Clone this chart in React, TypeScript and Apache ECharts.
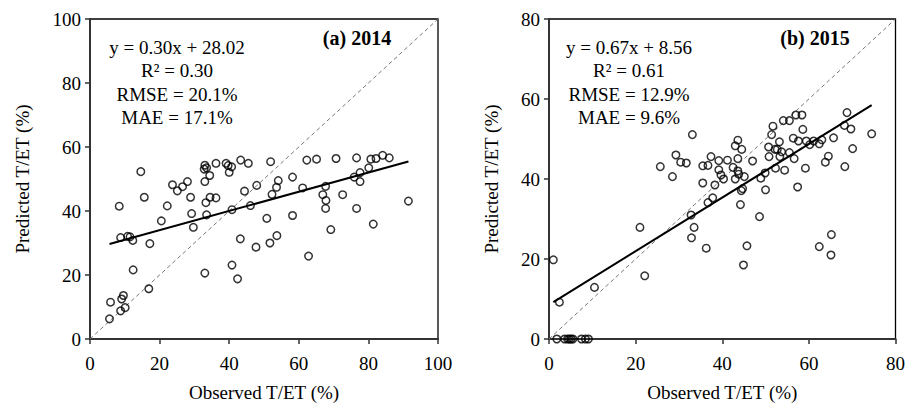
import React, { useEffect, useRef } from "react";
import * as echarts from "echarts";

// 2014 season: observed vs predicted T/ET (%)
const obs2014 = [
  5.6, 5.9, 8.8, 10.1, 9.1, 9.6, 8.4, 8.8, 10.8, 11.5, 12.3, 12.4, 14.6, 15.6, 16.9, 17.2,
  20.5, 22.2, 23.7, 25.1, 26.6, 28.0, 28.9, 29.2, 29.7, 33.0, 33.3, 33.5, 34.4, 34.5, 36.2,
  33.0, 33.5, 32.8, 36.2, 39.1, 39.7, 40.7, 40.0, 43.3, 45.5, 44.4, 47.9, 40.8, 46.1, 43.2,
  47.7, 50.8, 51.7, 53.7, 51.9, 52.3, 53.6, 54.1, 58.2, 58.2, 61.1, 62.3, 65.1, 69.2, 67.7,
  66.9, 67.8, 67.7, 70.7, 72.6, 76.6, 76.6, 75.9, 77.6, 77.6, 80.1, 80.7, 82.2, 84.1, 86.0,
  81.4, 91.5, 40.8, 42.4, 33.0, 62.8,
];
const pred2014 = [
  6.3, 11.5, 8.8, 9.8, 12.5, 13.6, 41.5, 31.7, 32.1, 31.9, 30.8, 21.6, 52.3, 44.3, 15.7, 29.8,
  36.9, 41.6, 48.2, 46.3, 47.6, 49.2, 44.3, 39.2, 34.9, 49.2, 42.6, 38.8, 51.1, 44.3, 44.1,
  54.3, 53.5, 53.1, 54.9, 54.9, 54.2, 53.8, 52.1, 55.9, 54.9, 46.2, 48.0, 40.4, 41.7, 31.3,
  28.7, 37.7, 30.0, 32.3, 55.4, 45.2, 47.4, 49.5, 50.6, 38.6, 47.2, 55.9, 56.2, 34.2, 47.7,
  45.1, 43.3, 40.8, 56.4, 45.1, 56.6, 40.8, 50.6, 52.0, 49.2, 53.5, 56.2, 56.4, 57.4, 56.6,
  35.9, 43.1, 23.1, 18.8, 20.6, 25.9,
];

// 2015 season: observed vs predicted T/ET (%)
const obs2015 = [
  1.8, 3.6, 4.3, 4.7, 5.1, 5.5, 7.5, 8.4, 9.1,
  1.0, 2.4, 10.5, 21.0, 22.1, 25.7, 28.5, 29.3, 30.4, 31.7, 33.1, 32.8, 33.5, 32.9, 36.3,
  35.5, 38.3, 36.7, 37.8, 35.5, 36.7, 37.4, 39.2, 39.2, 39.7, 40.3, 41.2, 42.5, 43.0, 43.6,
  44.5, 43.6, 43.6, 43.0, 43.8, 45.1, 44.4, 44.7, 44.2, 48.6, 45.7, 44.9, 47.0, 48.9, 49.9,
  50.0, 50.7, 50.8, 51.4, 51.7, 52.2, 52.7, 53.7, 53.2, 53.3, 52.3, 54.1, 55.5, 54.4, 55.5,
  56.4, 57.6, 56.6, 57.0, 58.4, 58.6, 57.4, 59.2, 59.4, 60.2, 61.1, 62.4, 63.0, 64.5, 63.8,
  65.7, 68.2, 68.8, 69.7, 68.3, 70.1, 74.5, 62.4, 65.2, 65.1,
];
const pred2015 = [
  0, 0, 0, 0, 0, 0, 0, 0, 0,
  19.8, 9.2, 12.9, 27.9, 15.8, 43.1, 40.6, 46.0, 44.2, 44.0, 51.1, 31.0, 27.9, 25.3, 22.7,
  39.0, 38.5, 34.1, 35.3, 43.3, 43.4, 45.6, 44.6, 42.3, 41.0, 40.0, 44.7, 42.9, 48.3, 49.7,
  47.4, 45.1, 42.0, 40.0, 41.2, 40.6, 37.1, 37.6, 33.6, 30.6, 23.3, 18.5, 44.5, 40.2, 41.5,
  37.3, 48.0, 45.6, 51.1, 53.2, 47.4, 47.4, 46.8, 49.3, 45.6, 42.7, 54.6, 54.6, 42.2, 46.6,
  50.2, 49.5, 45.1, 56.0, 56.0, 52.4, 38.0, 42.7, 49.5, 48.6, 49.5, 48.8, 49.8, 45.7, 44.2,
  50.3, 53.4, 56.6, 52.5, 43.1, 47.6, 51.3, 23.1, 26.1, 21.0,
];

// Fitted linear regressions and fit statistics
const slope2014 = 0.3;
const intercept2014 = 28.02;
const stats2014 = ["y = 0.30x + 28.02", "R² = 0.30", "RMSE = 20.1%", "MAE = 17.1%"];
const slope2015 = 0.67;
const intercept2015 = 8.56;
const stats2015 = ["y = 0.67x + 8.56", "R² = 0.61", "RMSE = 12.9%", "MAE = 9.6%"];

const panelTitles = ["(a) 2014", "(b) 2015"];
const axisMax = [100, 80];

const FONT = "'Liberation Serif', 'Times New Roman', serif";

function pairs(xs: number[], ys: number[]) {
  return xs.map((x, i) => [x, ys[i]]);
}

function fitLine(xs: number[], slope: number, intercept: number) {
  const lo = Math.min(...xs);
  const hi = Math.max(...xs);
  return [
    [lo, slope * lo + intercept],
    [hi, slope * hi + intercept],
  ];
}

export default function App() {
  const ref = useRef<HTMLDivElement>(null);

  useEffect(() => {
    document.body.style.margin = "0";
    if (!ref.current) return;
    const chart = echarts.init(ref.current, null, { renderer: "svg" });

    const grids = [
      { left: 90, top: 19, width: 348, height: 324 },
      { left: 549, top: 19, width: 349, height: 324 },
    ];

    const makeX = (i: number) => ({
      type: "value" as const,
      gridIndex: i,
      min: 0,
      max: axisMax[i],
      interval: 20,
      name: "Observed T/ET (%)",
      nameLocation: "middle" as const,
      nameGap: 44,
      nameTextStyle: { fontFamily: FONT, fontSize: 19, color: "#000" },
      axisLine: { show: true, onZero: false, lineStyle: { color: "#333", width: 2 } },
      axisTick: { show: true, inside: false, length: 5, lineStyle: { color: "#333", width: 1.5 } },
      axisLabel: { fontFamily: FONT, fontSize: 19, color: "#000", margin: 15 },
      splitLine: { show: false },
    });

    const makeY = (i: number, gap: number) => ({
      type: "value" as const,
      gridIndex: i,
      min: 0,
      max: axisMax[i],
      interval: 20,
      name: "Predicted T/ET (%)",
      nameLocation: "middle" as const,
      nameGap: gap,
      nameTextStyle: { fontFamily: FONT, fontSize: 19, color: "#000" },
      axisLine: { show: true, onZero: false, lineStyle: { color: "#333", width: 2 } },
      axisTick: { show: true, inside: false, length: 5, lineStyle: { color: "#333", width: 1.5 } },
      axisLabel: { fontFamily: FONT, fontSize: 19, color: "#000", margin: 9 },
      splitLine: { show: false },
    });

    const scatterStyle = {
      color: "rgba(0,0,0,0)",
      borderColor: "#000",
      borderWidth: 1.5,
    };

    const statsText = (lines: string[], cx: number) =>
      lines.map((t, k) => ({
        type: "text" as const,
        x: cx,
        y: 47 + k * 23.5,
        style: {
          text: t,
          fontFamily: FONT,
          fontSize: 19,
          fill: "#000",
          textAlign: "center" as const,
          textVerticalAlign: "middle" as const,
        },
      }));

    chart.setOption({
      animation: false,
      backgroundColor: "#fff",
      grid: grids.map((g) => ({ ...g, show: true, borderColor: "#000", borderWidth: 1.3, backgroundColor: "transparent" })),
      xAxis: [makeX(0), makeX(1)],
      yAxis: [makeY(0, 58), makeY(1, 48)],
      series: [
        {
          type: "line",
          xAxisIndex: 0,
          yAxisIndex: 0,
          data: [[0, 0], [axisMax[0], axisMax[0]]],
          symbol: "none",
          lineStyle: { color: "#777", width: 1, type: [4, 3] },
          z: 1,
        },
        {
          type: "line",
          xAxisIndex: 0,
          yAxisIndex: 0,
          data: fitLine(obs2014, slope2014, intercept2014),
          symbol: "none",
          lineStyle: { color: "#000", width: 2 },
          z: 2,
        },
        {
          type: "scatter",
          xAxisIndex: 0,
          yAxisIndex: 0,
          data: pairs(obs2014, pred2014),
          symbol: "circle",
          symbolSize: 7.5,
          itemStyle: scatterStyle,
          z: 3,
        },
        {
          type: "line",
          xAxisIndex: 1,
          yAxisIndex: 1,
          data: [[0, 0], [axisMax[1], axisMax[1]]],
          symbol: "none",
          lineStyle: { color: "#777", width: 1, type: [4, 3] },
          z: 1,
        },
        {
          type: "line",
          xAxisIndex: 1,
          yAxisIndex: 1,
          data: fitLine(obs2015, slope2015, intercept2015),
          symbol: "none",
          lineStyle: { color: "#000", width: 2 },
          z: 2,
        },
        {
          type: "scatter",
          xAxisIndex: 1,
          yAxisIndex: 1,
          data: pairs(obs2015, pred2015),
          symbol: "circle",
          symbolSize: 7.5,
          itemStyle: scatterStyle,
          z: 3,
        },
      ],
      graphic: [
        ...statsText(stats2014, 177),
        ...statsText(stats2015, 629),
        {
          type: "text",
          x: 357,
          y: 38,
          style: {
            text: panelTitles[0],
            fontFamily: FONT,
            fontSize: 20,
            fontWeight: "bold",
            fill: "#000",
            textAlign: "center",
            textVerticalAlign: "middle",
          },
        },
        {
          type: "text",
          x: 815,
          y: 38,
          style: {
            text: panelTitles[1],
            fontFamily: FONT,
            fontSize: 20,
            fontWeight: "bold",
            fill: "#000",
            textAlign: "center",
            textVerticalAlign: "middle",
          },
        },
      ],
    });

    return () => chart.dispose();
  }, []);

  return <div ref={ref} style={{ width: 908, height: 407 }} />;
}
